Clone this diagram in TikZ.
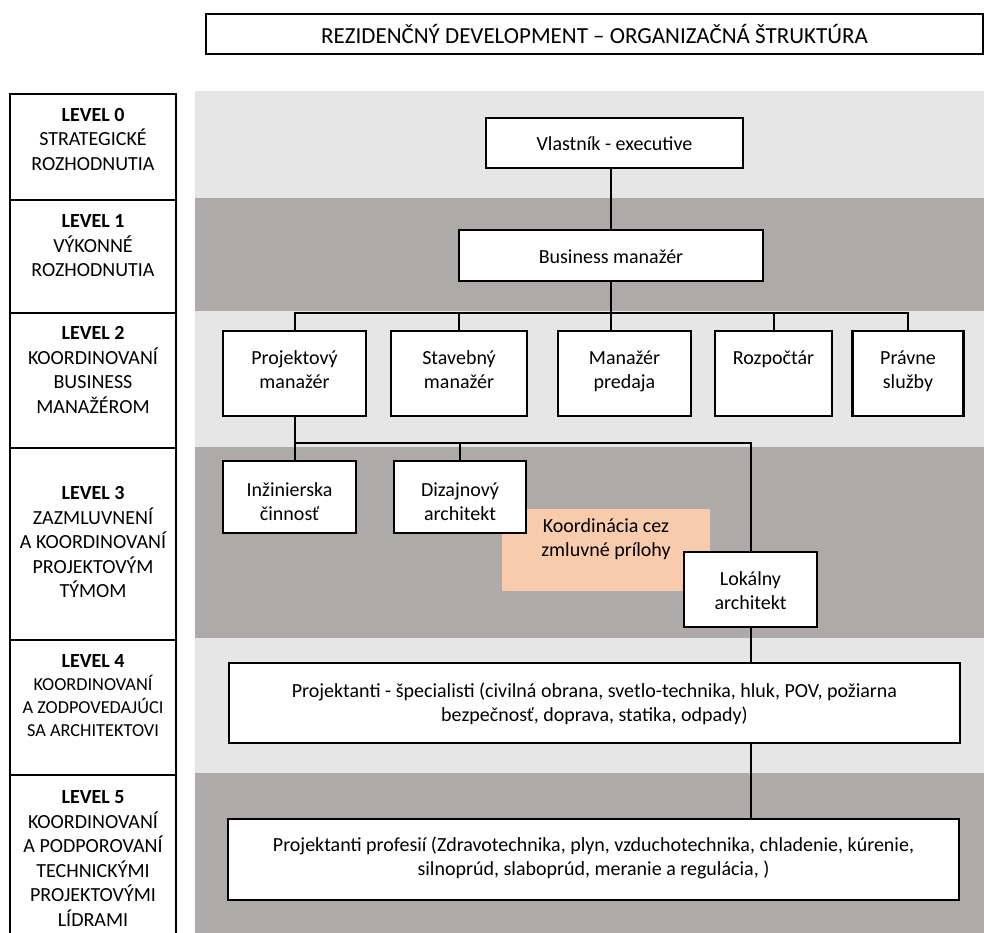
\documentclass[tikz,border=0pt]{standalone}
\usepackage{fontspec}
\setmainfont{Carlito}
\usetikzlibrary{positioning}
\definecolor{bandlight}{HTML}{E7E6E6}
\definecolor{banddark}{HTML}{AEAAAA}
\definecolor{notefill}{HTML}{F8CBAD}
\tikzstyle{role} = [rectangle, draw=black, line width=2.2pt, fill=white, align=center, inner sep=0pt, font=\fontsize{20}{24}\selectfont, execute at begin node=\strut, execute at end node=\strut]
\tikzstyle{levelrow} = [line width=1.2pt]
\tikzstyle{leveltext} = [align=center, inner sep=0pt, anchor=north, font=\fontsize{20}{24.5}\selectfont]
\tikzstyle{link} = [line width=2pt]
\newcommand{\down}[1]{\rule{0pt}{#1}}

\begin{document}
\begin{tikzpicture}[x=1pt, y=-1pt]
        \useasboundingbox (0,0) rectangle (984,932);
        % pasy urovni
        \fill[bandlight] (195,91) rectangle (984,198);
        \fill[banddark] (195,198) rectangle (984,311);
        \fill[bandlight] (195,311) rectangle (984,447);
        \fill[banddark] (195,447) rectangle (984,638);
        \fill[bandlight] (195,638) rectangle (984,773);
        \fill[banddark] (195,773) rectangle (984,940);

        \node (titul) [draw, line width=1.2pt, minimum width=777pt, minimum height=40pt, inner sep=0pt, font=\fontsize{23}{24}\selectfont] at (594.5,34) {REZIDENČNÝ DEVELOPMENT – ORGANIZAČNÁ ŠTRUKTÚRA};

        % lavy stlpec
        \draw[levelrow] (10,94) rectangle (176,200);
        \draw[levelrow] (10,200) rectangle (176,313);
        \draw[levelrow] (10,313) rectangle (176,448);
        \draw[levelrow] (10,448) rectangle (176,640);
        \draw[levelrow] (10,640) rectangle (176,775);
        \draw[levelrow] (10,775) rectangle (176,945);
        \node (lvl0) [leveltext] at (93,108) {\textbf{LEVEL 0}\\STRATEGICKÉ\\ROZHODNUTIA};
        \node (lvl1) [leveltext] at (93,214.5) {\textbf{LEVEL 1}\\VÝKONNÉ\\ROZHODNUTIA};
        \node (lvl2) [leveltext] at (93,326.5) {\textbf{LEVEL 2}\\KOORDINOVANÍ\\BUSINESS\\MANAŽÉROM};
        \node (lvl3) [leveltext] at (93,486.5) {\textbf{LEVEL 3}\\ZAZMLUVNENÍ\\A KOORDINOVANÍ\\PROJEKTOVÝM\\TÝMOM};
        \node (lvl4) [leveltext, font=\fontsize{18.3}{23}\selectfont] at (93,654.5) {{\fontsize{20}{24}\selectfont\textbf{LEVEL 4}}\\KOORDINOVANÍ\\A ZODPOVEDAJÚCI\\SA ARCHITEKTOVI};
        \node (lvl5) [leveltext] at (93,790.5) {\textbf{LEVEL 5}\\KOORDINOVANÍ\\A PODPOROVANÍ\\TECHNICKÝMI\\PROJEKTOVÝMI\\LÍDRAMI};

        % poznamka
        \node (koord) [fill=notefill, inner sep=0pt, align=center, minimum width=208pt, minimum height=82pt, font=\fontsize{20}{24}\selectfont] at (606,550) {Koordinácia cez\\zmluvné prílohy\\\mbox{}};

        % organizacia
        \node (vlastnik) [role, minimum width=257pt, minimum height=50pt] at (614.5,143) {\down{22.8pt}Vlastník - executive};
        \node (business) [role, minimum width=304pt, minimum height=51pt] at (611,255.5) {\down{22.8pt}Business manažér};
        \node (projekt) [role, minimum width=143pt, minimum height=85pt] at (294.5,373.5) {Projektový\\manažér};
        \node (stavba) [role, minimum width=136pt, minimum height=85pt] at (459,373.5) {Stavebný\\manažér};
        \node (predaj) [role, minimum width=133pt, minimum height=85pt] at (624.5,373.5) {Manažér\\predaja};
        \node (rozpocet) [role, minimum width=117pt, minimum height=85pt] at (773.5,373.5) {Rozpočtár\\\mbox{}};
        \node (pravne) [role, minimum width=111pt, minimum height=85pt] at (908,373.5) {Právne\\služby};
        \node (inzin) [role, minimum width=133pt, minimum height=72pt] at (289.5,497) {\down{30.8pt}Inžinierska\\činnosť};
        \node (dizajn) [role, minimum width=132pt, minimum height=72pt] at (460,497) {\down{30.8pt}Dizajnový\\architekt};
        \node (lokal) [role, minimum width=133pt, minimum height=75pt] at (750.5,589.5) {\down{22.8pt}Lokálny\\architekt};
        \node (spec) [role, minimum width=731pt, minimum height=80pt] at (594.5,703) {\down{21pt}Projektanti - špecialisti (civilná obrana, svetlo-technika, hluk, POV, požiarna\\bezpečnosť, doprava, statika, odpady)};
        \node (prof) [role, minimum width=731pt, minimum height=81pt] at (593.5,859.5) {Projektanti profesií (Zdravotechnika, plyn, vzduchotechnika, chladenie, kúrenie,\\silnoprúd, slaboprúd, meranie a regulácia, )};

        \coordinate (bus2) at (611,313);
        \coordinate (bus3) at (295,443);

        \draw[link] (vlastnik.south -| bus2) -- (business.north -| bus2);
        \draw[link] (business.south -| bus2) -- (bus2);
        \draw[link] (projekt.north) |- (bus2) -| (pravne.north);
        \draw[link] (stavba.north) -- (stavba.north |- bus2);
        \draw[link] (bus2) -- (bus2 |- predaj.north);
        \draw[link] (rozpocet.north) -- (rozpocet.north |- bus2);
        \draw[link] (projekt.south) -- (projekt.south |- inzin.north);
        \draw[link] (projekt.south |- bus3) -| (lokal.north);
        \draw[link] (dizajn.north) -- (dizajn.north |- bus3);
        \draw[link] (lokal.south) -- (lokal.south |- spec.north);
        \draw[link] (lokal.south |- spec.south) -- (lokal.south |- prof.north);
    \end{tikzpicture}
\end{document}
